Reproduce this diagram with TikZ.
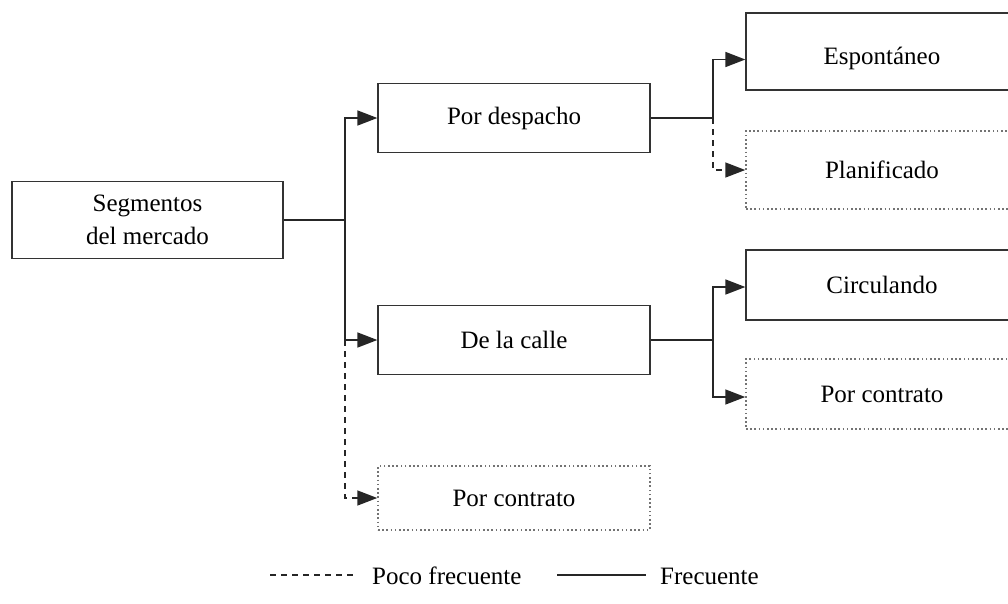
\documentclass[tikz,border=0pt]{standalone}
\usepackage{fontspec}
\setmainfont{Liberation Serif}
\usetikzlibrary{positioning,arrows.meta}

\begin{document}
\begin{tikzpicture}[
    x=1pt,y=-1pt,
    font=\fontsize{25}{33}\selectfont,
    segbox/.style={rectangle,draw=black!80,line width=1.3pt,minimum width=272pt,minimum height=69pt,align=center,inner sep=0pt},
    rarebox/.style={segbox,draw=black!55,line width=1.5pt,dash pattern=on 1.6pt off 2.6pt},
    link/.style={draw=black!85,line width=1.6pt},
    arrow/.style={link,-{Triangle[length=20pt,width=15pt]}},
    rare/.style={dash pattern=on 6pt off 5pt}
]
\useasboundingbox (0,0) rectangle (1008,603);

% left column
\node[segbox,minimum width=271pt,minimum height=77pt] (seg) at (147.5,220) {Segmentos\\del mercado};

% middle column
\node[segbox] (desp) at (514,118) {Por despacho};
\node[segbox] (calle) at (514,340) {De la calle};
\node[rarebox,minimum height=64pt] (contr) at (514,498) {Por contrato};

% right column
\node[segbox,minimum height=77pt,text height=31pt,text depth=6pt] (espo) at (882,51.5) {Espontáneo};
\node[rarebox,minimum height=78pt] (plan) at (882,170) {Planificado};
\node[segbox,minimum height=70pt] (circ) at (882,285) {Circulando};
\node[rarebox,minimum height=70pt] (contr2) at (882,394) {Por contrato};

% junctions
\coordinate (jseg) at (345,220);
\coordinate (jdesp) at (713,118);
\coordinate (jcalle) at (713,340);

\draw[link] (seg) -- (jseg);
\draw[arrow] (jseg) |- (desp);
\draw[arrow] (jseg) |- (calle);
\draw[arrow,rare] (jseg |- calle.west) |- (contr);

\draw[link] (desp) -- (jdesp);
\draw[arrow] (jdesp) |- ([yshift=-8pt]espo.west);
\draw[arrow,rare] (jdesp) |- (plan);

\draw[link] (calle) -- (jcalle);
\draw[arrow] (jcalle) |- ([yshift=-2pt]circ.west);
\draw[arrow] (jcalle) |- ([yshift=-3pt]contr2.west);

% legend
\node[anchor=west,inner sep=0pt] (poco) at (372,576) {Poco frecuente};
\node[anchor=west,inner sep=0pt] (frec) at (660,576) {Frecuente};
\coordinate (pocoa) at (270,575);
\coordinate (pocob) at (357,575);
\coordinate (freca) at (557,575);
\coordinate (frecb) at (646,575);
\draw[link,rare,line width=1.3pt] (pocoa) -- (pocob);
\draw[link,line width=1.3pt] (freca) -- (frecb);

\end{tikzpicture}
\end{document}
